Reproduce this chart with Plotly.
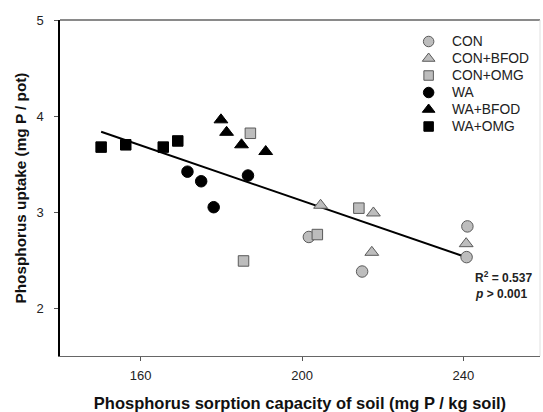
import plotly.graph_objects as go

# Phosphorus sorption capacity (x) vs phosphorus uptake (y) per treatment
con_x = [201.7, 214.9, 241.0, 240.8]
con_y = [2.74, 2.38, 2.85, 2.53]
con_bfod_x = [204.6, 217.7, 217.3, 240.7]
con_bfod_y = [3.07, 2.99, 2.58, 2.67]
con_omg_x = [187.2, 185.5, 203.8, 214.1]
con_omg_y = [3.82, 2.49, 2.765, 3.04]
wa_x = [171.6, 175.0, 178.1, 186.6]
wa_y = [3.42, 3.32, 3.05, 3.38]
wa_bfod_x = [179.9, 181.3, 185.0, 191.0]
wa_bfod_y = [3.96, 3.83, 3.70, 3.63]
wa_omg_x = [150.2, 156.3, 165.6, 169.2]
wa_omg_y = [3.676, 3.70, 3.676, 3.74]

# Linear regression line: y = intercept + slope * x
fit_intercept = 6.005
fit_slope = -0.01444
fit_x_range = [150.2, 240.0]

x_ticks = [160, 200, 240]
y_ticks = [2, 3, 4, 5]

GRAY = "#bdbdbd"
EDGE = "#5a5a5a"

series = [
    ("CON", con_x, con_y, "circle", GRAY, 11.5),
    ("CON+BFOD", con_bfod_x, con_bfod_y, "triangle-up", GRAY, 12),
    ("CON+OMG", con_omg_x, con_omg_y, "square", GRAY, 10.5),
    ("WA", wa_x, wa_y, "circle", "black", 11.5),
    ("WA+BFOD", wa_bfod_x, wa_bfod_y, "triangle-up", "black", 12),
    ("WA+OMG", wa_omg_x, wa_omg_y, "square", "black", 10.5),
]

font_family = "Liberation Sans, Arial, sans-serif"

fig = go.Figure()

fit_y = [fit_intercept + fit_slope * v for v in fit_x_range]
fig.add_trace(go.Scatter(
    x=fit_x_range, y=fit_y, mode="lines",
    line=dict(color="black", width=2), showlegend=False, hoverinfo="skip",
))

for name, xs, ys, sym, col, size in series:
    fig.add_trace(go.Scatter(
        x=xs, y=ys, mode="markers", name=name, showlegend=False,
        marker=dict(symbol=sym, color=col, size=size,
                    line=dict(color=EDGE if col == GRAY else "black", width=1)),
    ))

# Compact key drawn on an overlaid unit axis pair (tighter rows than the built-in legend)
key_x = 0.768
key_top = 0.936
key_step = 0.0506
key_text_x = 0.812
annotations = []
for i, (name, xs, ys, sym, col, size) in enumerate(series):
    ky = key_top - i * key_step
    fig.add_trace(go.Scatter(
        x=[key_x], y=[ky], xaxis="x2", yaxis="y2", mode="markers",
        showlegend=False, hoverinfo="skip",
        marker=dict(symbol=sym, color=col, size=size - 1,
                    line=dict(color=EDGE if col == GRAY else "black", width=1)),
    ))
    annotations.append(dict(
        x=key_text_x, y=ky, xref="x2", yref="y2", xanchor="left", yanchor="middle",
        showarrow=False, text=name, font=dict(size=13.8, color="#222"),
    ))

annotations += [
    dict(x=242.5, y=2.32, xref="x", yref="y", xanchor="left", showarrow=False,
         text="<b>R<sup>2</sup> = 0.537</b>", font=dict(size=12, color="#222")),
    dict(x=242.5, y=2.15, xref="x", yref="y", xanchor="left", showarrow=False,
         text="<b><i>p</i> &gt; 0.001</b>", font=dict(size=12, color="#222")),
]

fig.update_layout(
    width=543, height=412,
    margin=dict(l=60, r=3, t=20, b=56),
    paper_bgcolor="white", plot_bgcolor="white",
    font=dict(family=font_family, color="black"),
    showlegend=False,
    xaxis=dict(
        range=[140, 259], tickvals=x_ticks, ticks="outside", ticklen=4,
        tickcolor="#555", showgrid=False, zeroline=False,
        showline=True, linecolor="#666", linewidth=1, ticklabelstandoff=3,
        tickprefix="<b>", ticksuffix="</b>",
        tickfont=dict(size=13, family=font_family, color="#222"),
        title=dict(text="<b>Phosphorus sorption capacity of soil (mg P / kg soil)</b>",
                   font=dict(size=16.5, color="#111"), standoff=15),
    ),
    yaxis=dict(
        range=[1.5, 5], tickvals=y_ticks, ticks="outside", ticklen=4,
        tickcolor="#555", showgrid=False, zeroline=False,
        showline=True, linecolor="black", linewidth=1.5, ticklabelstandoff=8,
        tickprefix="<b>", ticksuffix="</b>",
        tickfont=dict(size=13, family=font_family, color="#222"),
        title=dict(text="<b>Phosphorus uptake (mg P / pot)</b>",
                   font=dict(size=15.3, color="#111"), standoff=6),
    ),
    xaxis2=dict(overlaying="x", range=[0, 1], visible=False, fixedrange=True),
    yaxis2=dict(overlaying="y", range=[0, 1], visible=False, fixedrange=True),
    shapes=[
        dict(type="line", xref="paper", yref="paper", x0=0, x1=1, y0=1, y1=1,
             line=dict(color="#8a8a8a", width=2)),
        dict(type="line", xref="paper", yref="paper", x0=1, x1=1, y0=0, y1=1,
             line=dict(color="#e0e0e0", width=1)),
    ],
    annotations=annotations,
)

fig.write_html("out.html")
